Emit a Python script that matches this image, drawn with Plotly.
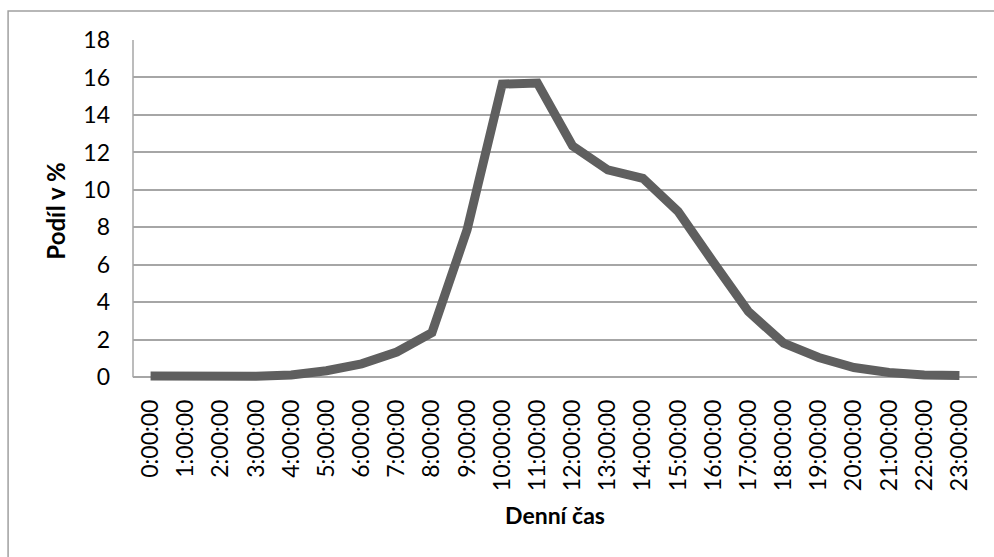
import plotly.graph_objects as go

# Hourly share of daily volume (%)
hours = [f"{h}:00:00" for h in range(24)]
share = [0.07, 0.05, 0.05, 0.06, 0.12, 0.35, 0.72, 1.35, 2.38,
         7.87, 15.65, 15.7, 12.35, 11.07, 10.62, 8.85, 6.15, 3.51,
         1.82, 1.06, 0.52, 0.26, 0.13, 0.1]

y_ticks = list(range(0, 19, 2))

FONT = "Lato"
GRID = "#a6a6a6"

fig = go.Figure()
fig.add_trace(go.Scatter(
    x=hours, y=share, mode="lines",
    line=dict(color="#5f5f5f", width=9),
    hoverinfo="x+y", showlegend=False,
))

# vertical axis line from 0 to 18 (bottom of plot is padded slightly so the thick line isn't clipped)
fig.add_shape(type="line", xref="paper", yref="y", x0=0, x1=0, y0=0, y1=18,
              line=dict(color=GRID, width=1.5))
# chart frame
fig.add_shape(type="rect", xref="paper", yref="paper",
              x0=-0.148, x1=1.03, y0=-0.6, y1=1.085,
              line=dict(color="#a0a0a0", width=1.5), fillcolor="rgba(0,0,0,0)",
              layer="below")

fig.update_layout(
    width=994, height=557,
    margin=dict(l=133, r=17, t=40, b=175),
    paper_bgcolor="white", plot_bgcolor="white",
    font=dict(family=FONT, size=23, color="black"),
    xaxis=dict(
        type="category", range=[-0.5, 23.5],
        tickangle=-90, showgrid=False, showline=False, zeroline=False,
        ticks="", ticklabelstandoff=12,
        tickfont=dict(family=FONT, size=23),
        title=dict(text="<b>Denní čas</b>", standoff=17,
                   font=dict(family=FONT, size=23)),
    ),
    yaxis=dict(
        range=[-0.25, 18], tickvals=y_ticks,
        showgrid=True, gridcolor=GRID, gridwidth=1.5,
        zeroline=True, zerolinecolor=GRID, zerolinewidth=1.5,
        showline=False, ticks="", ticklabelstandoff=22,
        tickfont=dict(family=FONT, size=23),
        title=dict(text="<b>Podíl v %</b>", standoff=10,
                   font=dict(family=FONT, size=24)),
    ),
)

fig.write_html("out.html")
